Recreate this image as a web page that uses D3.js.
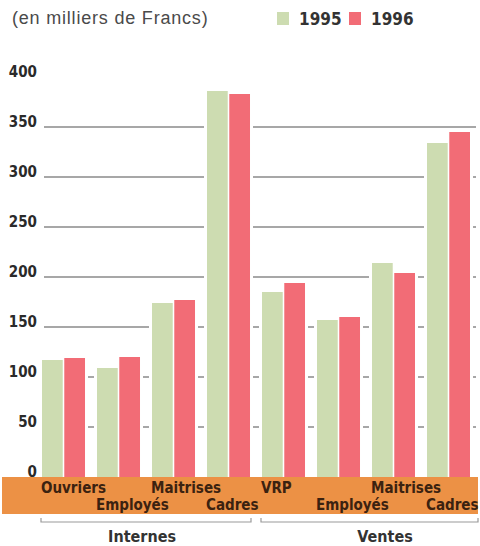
<!DOCTYPE html>
<html>
<head>
<meta charset="utf-8">
<script src="https://cdn.jsdelivr.net/npm/d3@7"></script>
<style>
  html, body { margin: 0; padding: 0; background: #fff; }
  svg { display: block; }
  .cond { font-family: "Liberation Sans Narrow", "DejaVu Sans Condensed", "Roboto Condensed", sans-serif; font-weight: bold; font-stretch: condensed; }
</style>
</head>
<body>
<script>
// Salaires moyens par catégorie, en milliers de francs
const categories = ["Ouvriers", "Employés", "Maitrises", "Cadres", "VRP", "Employés", "Maitrises", "Cadres"];
const groups = ["Internes", "Internes", "Internes", "Internes", "Ventes", "Ventes", "Ventes", "Ventes"];
const groupNames = ["Internes", "Ventes"];
const years = ["1995", "1996"];
const values1995 = [117, 109, 174, 386, 185, 157, 214, 334];
const values1996 = [119, 120, 177, 383, 194, 160, 204, 345];
const yTicks = [0, 50, 100, 150, 200, 250, 300, 350, 400];
const gridTicks = [50, 100, 150, 200, 250, 300, 350];

const W = 480, H = 546;
const colors = { "1995": "#cddcb1", "1996": "#f26c76" };

const svg = d3.select("body").append("svg").attr("width", W).attr("height", H);

const rows = categories.map((c, i) => ({ i, cat: c, group: groups[i], "1995": values1995[i], "1996": values1996[i] }));

const x0 = d3.scaleBand().domain(d3.range(categories.length)).range([36.5, 475.5]).paddingInner(0.218).paddingOuter(0.1);
const x1 = d3.scaleBand().domain(years).range([0, x0.bandwidth()]).paddingInner(0.07);
const y = d3.scaleLinear().domain([0, 400]).range([477, 77]);

// Title and legend
svg.append("text").attr("x", 12).attr("y", 24)
  .style("font-family", "'Liberation Sans', Arial, sans-serif").style("font-size", "18px")
  .style("letter-spacing", "0.8px").attr("fill", "#4a4a4a")
  .text("(en milliers de Francs)");

const legend = svg.append("g").attr("transform", "translate(277,12)");
years.forEach((yr, k) => {
  const g = legend.append("g").attr("transform", `translate(${k * 72},0)`);
  g.append("rect").attr("width", 12).attr("height", 13).attr("fill", colors[yr]);
  g.append("text").attr("class", "cond").attr("x", 22).attr("y", 12.5)
    .style("font-size", "17px").attr("fill", "#333").text(yr);
});

// Horizontal grid
svg.append("g").selectAll("line").data(gridTicks).join("line")
  .attr("x1", 44).attr("x2", 476)
  .attr("y1", d => y(d)).attr("y2", d => y(d))
  .attr("stroke", "#8a8a8a").attr("stroke-width", 1.4);

// Y axis labels
const yAxis = d3.axisLeft(y).tickValues(yTicks).tickSize(0).tickPadding(0);
const ya = svg.append("g").attr("transform", "translate(37,-5)").call(yAxis);
ya.select(".domain").remove();
ya.selectAll("text").attr("class", "cond").style("font-size", "15px").attr("fill", "#2a2a2a");

// Bars, each with a white halo that interrupts the grid
const bars = svg.append("g").selectAll("g").data(rows).join("g")
  .attr("transform", d => `translate(${x0(d.i)},0)`);
bars.selectAll("rect.halo").data(d => years.map(k => ({ k, v: d[k] }))).join("rect")
  .attr("class", "halo")
  .attr("x", d => x1(d.k) - 3).attr("width", x1.bandwidth() + 6)
  .attr("y", d => y(d.v) - 2).attr("height", d => y(0) - y(d.v) + 2)
  .attr("fill", "#fff");
bars.selectAll("rect.bar").data(d => years.map(k => ({ k, v: d[k] }))).join("rect")
  .attr("class", "bar")
  .attr("x", d => x1(d.k)).attr("width", x1.bandwidth())
  .attr("y", d => y(d.v)).attr("height", d => y(0) - y(d.v))
  .attr("fill", d => colors[d.k]);

// Orange category band
svg.append("rect").attr("x", 2).attr("y", 477).attr("width", 476).attr("height", 37).attr("fill", "#ec9145");
svg.append("g").selectAll("text").data(rows).join("text")
  .attr("class", "cond")
  .attr("x", d => x0(d.i) - 1)
  .attr("y", d => d.i % 2 === 0 ? 493 : 510)
  .style("font-size", "15px").attr("fill", "#3b2210")
  .text(d => d.cat);

// Group brackets
const groupLabelX = [142, 385];
groupNames.forEach((gn, gi) => {
  const idx = rows.filter(r => r.group === gn).map(r => r.i);
  const a = x0(d3.min(idx)) - 1;
  const b = gi === groupNames.length - 1 ? 478 : x0(d3.max(idx)) + x0.bandwidth() + 1;
  const g = svg.append("g");
  g.append("path").attr("d", `M${a},518V522H${b}V518`)
    .attr("fill", "none").attr("stroke", "#9a9a9a").attr("stroke-width", 1.2);
  g.append("text").attr("class", "cond").attr("x", groupLabelX[gi]).attr("y", 542)
    .attr("text-anchor", "middle").style("font-size", "16px").attr("fill", "#333").text(gn);
});
</script>
</body>
</html>
